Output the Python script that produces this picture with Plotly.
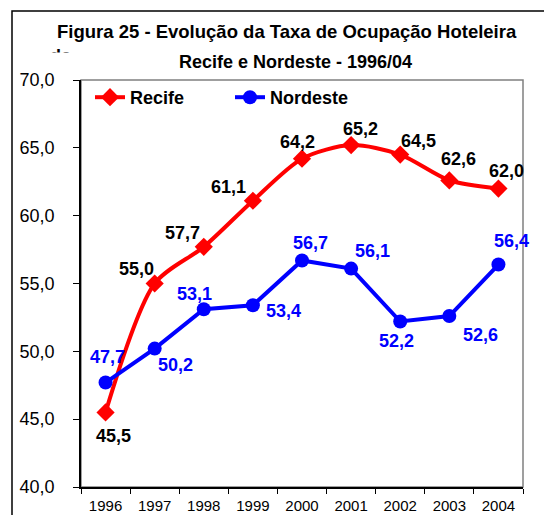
import plotly.graph_objects as go

years = ["1996", "1997", "1998", "1999", "2000", "2001", "2002", "2003", "2004"]
recife = [45.5, 55.0, 57.7, 61.1, 64.2, 65.2, 64.5, 62.6, 62.0]
nordeste = [47.7, 50.2, 53.1, 53.4, 56.7, 56.1, 52.2, 52.6, 56.4]

# label offsets in pixels (dx right, dy down) - styling only
recife_lbl = [(8, 24), (-18, -15), (-21, -14), (-24, -14), (-5, -17),
              (9, -16), (18, -14), (9, -21), (8, -18)]
nordeste_lbl = [(2, -26), (21, 16), (-9, -15), (31, 6), (8, -17),
                (21, -18), (-4, 20), (31, 19), (13, -24)]

FONT = "Arial, Liberation Sans, sans-serif"

def fmt(v):
    return f"{v:.1f}".replace(".", ",")

# page offset from default body margin
OFF = 8
# plot area in page pixels: x 81..523, y 80..487
L, R, T, B = 81, 523, 80, 487
PW, PH = 552, 515
W, H = PW - OFF, PH - OFF
def px(x):
    return (x - L) / (R - L)
def py(y):
    return (B - y) / (B - T)

fig = go.Figure()
fig.add_trace(go.Scatter(
    x=years, y=recife, name="Recife", mode="lines+markers",
    line=dict(color="#FF0000", width=4, shape="spline", smoothing=0.8),
    marker=dict(symbol="diamond", size=14, color="#FF0000"),
    cliponaxis=False,
))
fig.add_trace(go.Scatter(
    x=years, y=nordeste, name="Nordeste", mode="lines+markers",
    line=dict(color="#0000FF", width=4),
    marker=dict(symbol="circle", size=14, color="#0000FF"),
    cliponaxis=False,
))

annotations = []
# on a category axis annotation x is the category index
for i, (v, (dx, dy)) in enumerate(zip(recife, recife_lbl)):
    annotations.append(dict(x=i, y=v, xref="x", yref="y", text=fmt(v), showarrow=False,
                            xshift=dx, yshift=-dy, xanchor="center", yanchor="middle",
                            font=dict(family=FONT, size=18, color="black", weight="bold")))
for i, (v, (dx, dy)) in enumerate(zip(nordeste, nordeste_lbl)):
    annotations.append(dict(x=i, y=v, xref="x", yref="y", text=fmt(v), showarrow=False,
                            xshift=dx, yshift=-dy, xanchor="center", yanchor="middle",
                            font=dict(family=FONT, size=18, color="#0000FF", weight="bold")))

shapes = [
    # plot area border (gray)
    dict(type="rect", xref="paper", yref="paper", x0=0, x1=1, y0=0, y1=1,
         line=dict(color="#808080", width=1.5), layer="below"),
    # outer chart frame
    dict(type="rect", xref="paper", yref="paper", x0=px(12), x1=px(600),
         y0=py(600), y1=py(11), line=dict(color="black", width=1.5), layer="below"),
]

annotations += [
    dict(text="Figura 25 - Evolução da Taxa de Ocupação Hoteleira", xref="paper", yref="paper",
         x=px(287), y=py(31), xanchor="center", yanchor="middle", showarrow=False,
         font=dict(family=FONT, size=18.5, color="black", weight="bold")),
    dict(text="de", xref="paper", yref="paper",
         x=px(60), y=py(56), xanchor="center", yanchor="middle", showarrow=False,
         font=dict(family=FONT, size=18, color="black", weight="bold")),
    dict(text=" ", xref="paper", yref="paper",
         x=px(60), y=py(52), xanchor="center", yanchor="top", showarrow=False,
         width=36, height=14, bgcolor="white", borderpad=0),
    dict(text="Recife e Nordeste - 1996/04", xref="paper", yref="paper",
         x=px(295), y=py(62), xanchor="center", yanchor="middle", showarrow=False,
         font=dict(family=FONT, size=18, color="black", weight="bold")),
]

fig.update_layout(
    width=W, height=H,
    margin=dict(l=L - OFF, r=(PW - OFF) - (R - OFF), t=T - OFF, b=(PH - OFF) - (B - OFF),
                pad=0, autoexpand=False),
    paper_bgcolor="white", plot_bgcolor="white",
    separators=",.",
    shapes=shapes, annotations=annotations,
    showlegend=True,
    legend=dict(orientation="h", x=px(90), y=py(79), xanchor="left", yanchor="top",
                bgcolor="rgba(0,0,0,0)", entrywidth=95, entrywidthmode="pixels",
                font=dict(family=FONT, size=18, color="black", weight="bold"),
                tracegroupgap=0, itemclick=False),
    xaxis=dict(type="category", categoryorder="array", categoryarray=years,
               range=[-0.5, len(years) - 0.5], tickson="boundaries", ticks="outside", ticklen=5,
               tickcolor="black", showline=True, linecolor="black", linewidth=1.5,
               showgrid=False, zeroline=False, automargin=False, ticklabelstandoff=4,
               tickfont=dict(family=FONT, size=15, color="black"), fixedrange=True),
    yaxis=dict(range=[40, 70], dtick=5, tickformat=".1f", ticks="outside", ticklen=6,
               tickcolor="black", showline=True, linecolor="black", linewidth=1.5,
               showgrid=False, zeroline=False, automargin=False, ticklabelstandoff=15,
               tickfont=dict(family=FONT, size=18, color="black"), fixedrange=True),
)

fig.write_html("out.html")
